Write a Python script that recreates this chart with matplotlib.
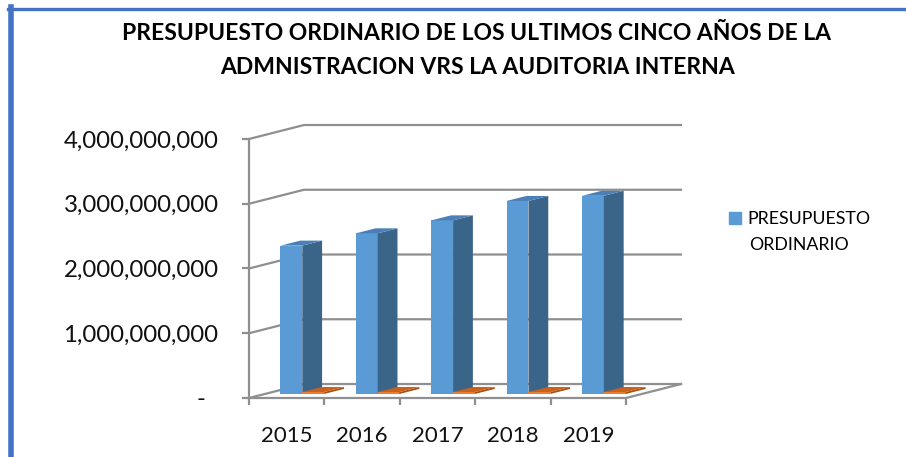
import matplotlib.pyplot as plt
from matplotlib.patches import Polygon
from matplotlib.lines import Line2D
from matplotlib.ticker import FuncFormatter

# data
years = ['2015', '2016', '2017', '2018', '2019']
presupuesto = [2.29e9, 2.48e9, 2.68e9, 2.98e9, 3.06e9]
auditoria = [3.0e7, 3.0e7, 3.0e7, 3.0e7, 3.0e7]
yticks = [0, 1e9, 2e9, 3e9, 4e9]

# 3d look: depth offset of the back wall (in data units)
DX = 0.73
DY = 0.216e9
GAP = 0.205      # space before first bar in a category
W = 0.29         # bar width
F0 = 0.29        # depth position of bar front
FD = 0.36        # bar depth

plt.rcParams['font.family'] = ['Lato', 'DejaVu Sans']

fig = plt.figure(figsize=(9.06, 4.57), dpi=100)
ax = fig.add_axes([249 / 906, 59 / 457, 432 / 906, 273 / 457])
ax.set_xlim(0, 5 + DX)
ax.set_ylim(0, 4e9 + DY)

grid = '#8f8f8f'
# back wall gridlines + floor
for v in yticks:
    ax.plot([0, DX, 5 + DX], [v, v + DY, v + DY], color=grid, lw=1.6,
            zorder=1, clip_on=False, solid_joinstyle='miter')
ax.plot([5, 5 + DX], [0, DY], color=grid, lw=1.6, zorder=1, clip_on=False)


def bar3d(x0, v, front, side, top):
    ox, oy = F0 * DX, F0 * DY
    dx, dy = FD * DX, FD * DY
    x1 = x0 + W
    faces = [
        ([(x0 + ox, oy), (x1 + ox, oy), (x1 + ox, v + oy), (x0 + ox, v + oy)], front),
        ([(x1 + ox, oy), (x1 + ox + dx, oy + dy), (x1 + ox + dx, v + oy + dy),
          (x1 + ox, v + oy)], side),
        ([(x0 + ox, v + oy), (x1 + ox, v + oy), (x1 + ox + dx, v + oy + dy),
          (x0 + ox + dx, v + oy + dy)], top),
    ]
    for pts, c in faces:
        ax.add_patch(Polygon(pts, closed=True, facecolor=c, edgecolor='none',
                             zorder=3))


for i in range(len(years)):
    bar3d(i + GAP, presupuesto[i], '#5b9bd5', '#3b6489', '#4a7fb8')
    bar3d(i + GAP + W, auditoria[i], '#ed7d31', '#a9500f', '#c8621c')

# front axes
for s in ['top', 'right']:
    ax.spines[s].set_visible(False)
ax.spines['left'].set_bounds(0, 4e9)
ax.spines['bottom'].set_bounds(0, 5)
for s in ['left', 'bottom']:
    ax.spines[s].set_color(grid)
    ax.spines[s].set_linewidth(1.6)
    ax.spines[s].set_zorder(4)

ax.set_yticks(yticks)
ax.yaxis.set_major_formatter(FuncFormatter(
    lambda v, p: '-  ' if v == 0 else '{:,.0f}'.format(v)))
ax.tick_params(axis='y', length=5, width=1.6, color=grid, pad=17,
               labelsize=17.3, labelcolor='#111111')

ax.set_xticks(range(6))
ax.set_xticklabels([])
ax.set_xticks([i + 0.5 for i in range(5)], minor=True)
ax.set_xticklabels(years, minor=True)
ax.tick_params(axis='x', which='major', length=5, width=1.6, color=grid)
ax.tick_params(axis='x', which='minor', length=0, pad=20, labelsize=16,
               labelcolor='#111111')

fig.text(477 / 906, 1 - 33 / 457,
         'PRESUPUESTO ORDINARIO DE LOS ULTIMOS CINCO AÑOS DE LA',
         ha='center', va='center', fontsize=16.5, fontweight='bold')
fig.text(477 / 906, 1 - 67 / 457,
         'ADMNISTRACION VRS LA AUDITORIA INTERNA',
         ha='center', va='center', fontsize=16.5, fontweight='bold')

# legend: square sits beside the first line, second line wraps below
handle = Line2D([], [], marker='s', color='#5b9bd5', linestyle='none',
                markersize=8)
fig.legend([handle], ['PRESUPUESTO'], loc='center left',
           bbox_to_anchor=(727 / 906, 1 - 219 / 457), frameon=False,
           fontsize=12.8, handletextpad=0.25, handlelength=0.9,
           borderpad=0, borderaxespad=0)
fig.text(749 / 906, 1 - 245 / 457, 'ORDINARIO', ha='left', va='center',
         fontsize=12.8)

# chart frame (blue border on the left and top)
fig.add_artist(Line2D([10.5 / 906, 10.5 / 906], [0, 1 - 7 / 457],
                      color='#4472c4', lw=4, transform=fig.transFigure))
fig.add_artist(Line2D([8 / 906, 1], [1 - 8.5 / 457, 1 - 8.5 / 457],
                      color='#4472c4', lw=2.4, transform=fig.transFigure))

fig.savefig('out.png', dpi=100)
